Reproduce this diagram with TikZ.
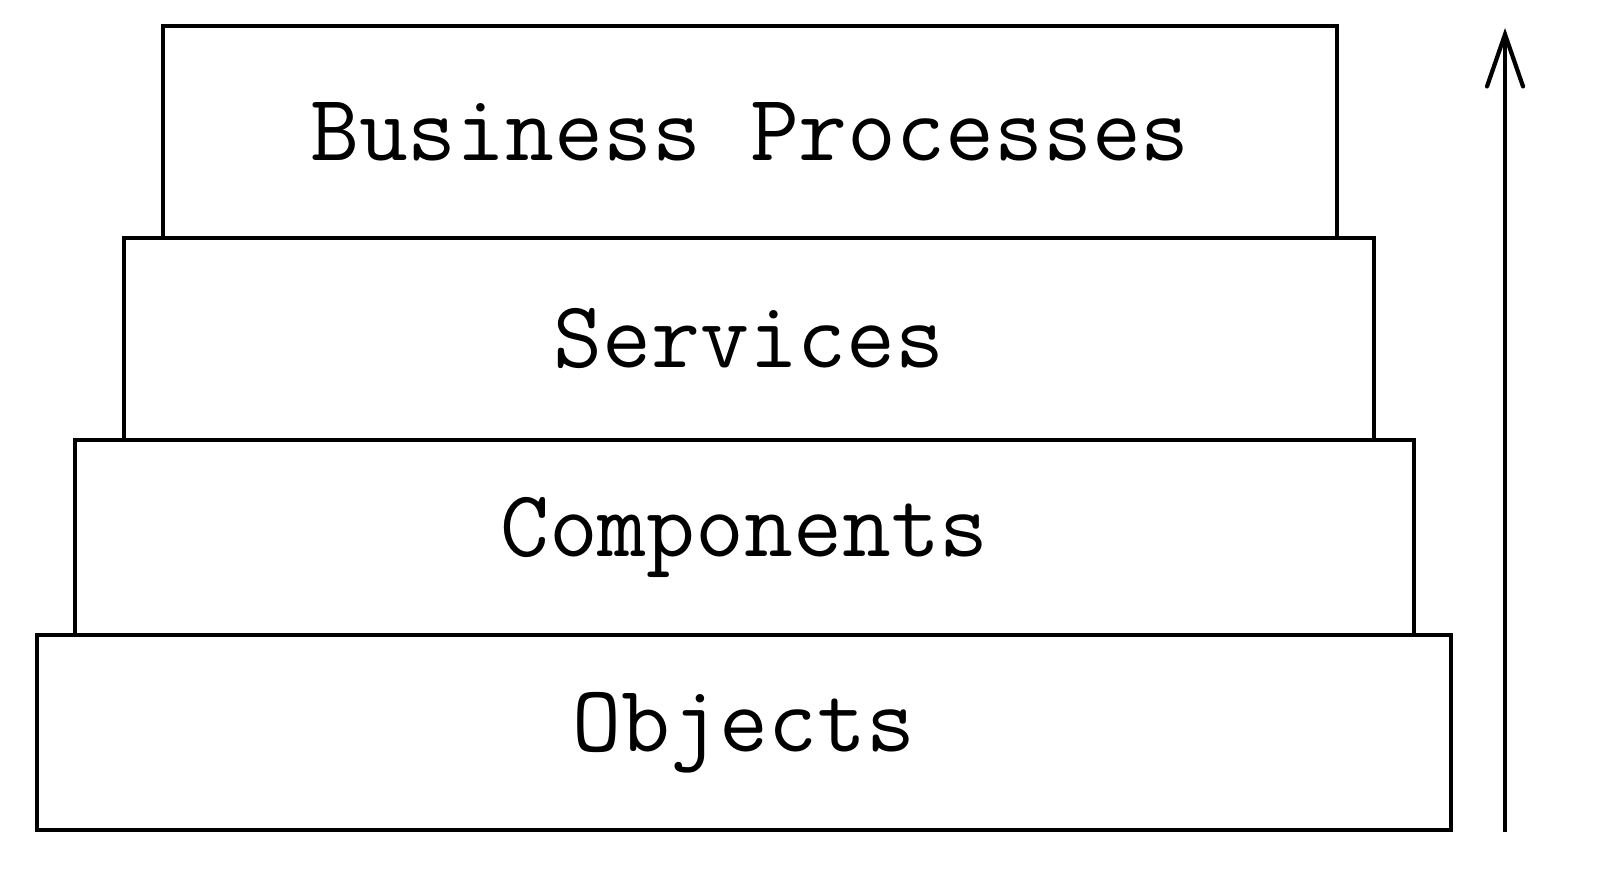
\documentclass[tikz,border=0pt]{standalone}
\usepackage{fontspec}
\usetikzlibrary{arrows.meta, positioning}

\begin{document}
\begin{tikzpicture}[line width=1.2pt, font=\ttfamily\fontsize{27}{31}\selectfont,
  layer/.style={draw, rectangle, inner sep=0pt, anchor=south}]
  \useasboundingbox (0,0) rectangle (16,8.73);
  \node[layer, minimum width=14.14cm, minimum height=1.95cm] (objects) at (7.44,0.41) {Objects};
  \node[layer, minimum width=13.39cm, minimum height=1.95cm] (components) at (7.445,2.36) {Components};
  \node[layer, minimum width=12.50cm, minimum height=2.02cm] (services) at (7.49,4.31) {Services};
  \node[layer, minimum width=11.74cm, minimum height=2.12cm] (business) at (7.50,6.33) {Business Processes};
  \coordinate (low) at (15.05,0.41);
  \coordinate (high) at (15.05,8.45);
  \draw[-{Straight Barb[length=0.52cm, width=0.36cm, line cap=round]}] (low) -- (high);
\end{tikzpicture}
\end{document}
